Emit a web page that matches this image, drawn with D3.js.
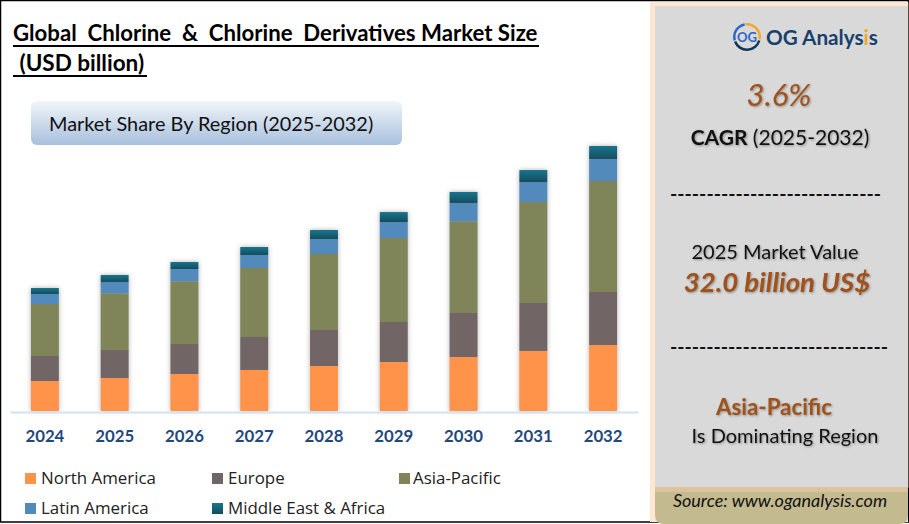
<!DOCTYPE html>
<html>
<head>
<meta charset="utf-8">
<script src="https://cdn.jsdelivr.net/npm/d3@7"></script>
<style>
  html, body { margin: 0; padding: 0; background: #fff; }
  svg { display: block; font-family: Lato, sans-serif; }
  svg text { white-space: pre; }
  .soft { filter: drop-shadow(1px 1px 1px rgba(0,0,0,0.35)); }
</style>
</head>
<body>
<div id="chart"></div>
<script>
const years = ['2024', '2025', '2026', '2027', '2028', '2029', '2030', '2031', '2032'];
const regions = ['North America', 'Europe', 'Asia-Pacific', 'Latin America', 'Middle East & Africa'];

// USD billion (2025 total = 32.0)
const northAmerica = [7.06, 7.76, 8.71, 9.65, 10.59, 11.53, 12.71, 14.12, 15.53];
const europe = [5.88, 6.59, 7.06, 7.76, 8.47, 9.41, 10.35, 11.29, 12.47];
const asiaPacific = [12.24, 13.34, 14.75, 16.24, 17.88, 19.76, 21.58, 23.76, 26.12];
const latinAmerica = [2.35, 2.66, 2.89, 3.06, 3.53, 3.76, 4.31, 4.71, 5.18];
const middleEastAfrica = [1.41, 1.65, 1.65, 1.88, 2.12, 2.35, 2.59, 2.82, 3.06];

const colors = ['#ff934a', '#716665', '#7f8558', '#528abb', 'url(#meaGrad)'];

const width = 909;
const height = 524;

const svg = d3.select('#chart').append('svg')
  .attr('width', width)
  .attr('height', height);

const defs = svg.append('defs');

function vGradient(id, top, bottom) {
  const g = defs.append('linearGradient')
    .attr('id', id)
    .attr('x1', 0).attr('y1', 0).attr('x2', 0).attr('y2', 1);
  g.append('stop').attr('offset', '0%').attr('stop-color', top);
  g.append('stop').attr('offset', '100%').attr('stop-color', bottom);
}
vGradient('meaGrad', '#19758d', '#134d5d');
vGradient('pillGrad', '#f1f5f9', '#a8c0dd');

function label(x, y, str, size, opts = {}) {
  return svg.append('text')
    .attr('x', x)
    .attr('y', y)
    .attr('text-anchor', opts.anchor || 'start')
    .attr('font-size', size)
    .attr('font-weight', opts.weight || 400)
    .attr('font-style', opts.style || 'normal')
    .attr('fill', opts.fill || '#111')
    .attr('class', opts.soft ? 'soft' : null)
    .text(str);
}

// frame
svg.append('rect').attr('x', 0.5).attr('y', 0.5).attr('width', 908).attr('height', 521.5)
  .attr('fill', '#fff').attr('stroke', '#000').attr('stroke-width', 1.5);

// title
label(13, 41, 'Global  Chlorine  &  Chlorine  Derivatives Market Size', 22.2, { weight: 700, fill: '#000' });
label(14, 71, ' (USD billion)', 22.5, { weight: 700, fill: '#000' });
svg.append('rect').attr('x', 13).attr('y', 45).attr('width', 526).attr('height', 2).attr('fill', '#000');
svg.append('rect').attr('x', 13).attr('y', 75).attr('width', 134).attr('height', 2).attr('fill', '#000');

// region pill
svg.append('rect').attr('x', 31).attr('y', 101).attr('width', 371).attr('height', 44).attr('rx', 6)
  .attr('fill', 'url(#pillGrad)');
label(49, 131, 'Market Share By Region (2025-2032)', 19.9);

// bars
const x = d3.scaleBand()
  .domain(years)
  .range([10, 638])
  .paddingInner(0.6)
  .paddingOuter(0.3);

const y = d3.scaleLinear()
  .domain([0, 32])
  .range([411, 275]);

const rows = years.map((yr, i) => ({
  year: yr,
  'North America': northAmerica[i],
  'Europe': europe[i],
  'Asia-Pacific': asiaPacific[i],
  'Latin America': latinAmerica[i],
  'Middle East & Africa': middleEastAfrica[i]
}));

const stacked = d3.stack().keys(regions)(rows);

const barLayer = svg.append('g')
  .style('filter', 'drop-shadow(0 0 2.5px rgba(0,0,0,0.3))');

barLayer.selectAll('g')
  .data(stacked)
  .enter()
  .append('g')
  .attr('fill', (d, i) => colors[i])
  .selectAll('rect')
  .data(d => d)
  .enter()
  .append('rect')
  .attr('x', d => x(d.data.year))
  .attr('y', d => y(d[1]))
  .attr('width', x.bandwidth())
  .attr('height', d => y(d[0]) - y(d[1]));

// axis
const axis = svg.append('g')
  .attr('transform', 'translate(0,412)')
  .call(d3.axisBottom(x).tickSize(0).tickPadding(18));
axis.select('.domain').attr('stroke', '#d4e1f1').attr('stroke-width', 2);
axis.selectAll('text')
  .attr('fill', '#1f497d')
  .attr('font-family', 'Lato, sans-serif')
  .attr('font-weight', 700)
  .attr('font-size', 16.8);

// legend
const legendPos = [[25, 41, 473], [212, 228, 473], [399, 413, 473], [25, 41, 503], [212, 228, 503]];
regions.forEach((r, i) => {
  const [sx, tx, sy] = legendPos[i];
  svg.append('rect').attr('x', sx).attr('y', sy).attr('width', 11).attr('height', 11).attr('fill', colors[i]);
  label(tx, sy + 11, r, 16.9, { fill: '#222' }).attr('font-family', '"Open Sans", sans-serif');
});

// right panel
svg.append('rect').attr('x', 650).attr('y', 2).attr('width', 258).attr('height', 520).attr('fill', '#fde6d2');
svg.append('rect').attr('x', 655).attr('y', 6).attr('width', 253).attr('height', 482).attr('fill', '#d9d9d9');
svg.append('path')
  .attr('d', 'M655,487H908V515Q908,524 899,524H664Q655,524 655,515Z')
  .attr('fill', '#c4ba90');
svg.append('rect').attr('x', 655).attr('y', 487).attr('width', 253).attr('height', 5).attr('fill', '#dcc39c');
svg.append('rect').attr('x', 908).attr('y', 2).attr('width', 1).attr('height', 486).attr('fill', '#5b4a3a');

// logo
const arc = d3.arc().innerRadius(11.5).outerRadius(14);
const logo = svg.append('g').attr('transform', 'translate(747,37)');
[[-0.1, 1.75, '#f5a623'], [1.85, 4.35, '#12355b'], [4.45, 6.1, '#2a67c9']].forEach(a => {
  logo.append('path')
    .attr('d', arc({ startAngle: a[0], endAngle: a[1] }))
    .attr('fill', a[2]);
});
logo.append('text').attr('text-anchor', 'middle').attr('y', 5).attr('font-size', 13)
  .attr('font-weight', 700).attr('fill', '#2a67c9').text('OG');
const brand = label(766, 45, 'OG Analys', 20.7, { weight: 700, fill: '#17406d' });
brand.append('tspan').attr('fill', '#f5a623').text('i');
brand.append('tspan').text('s');

// right panel text
const brown = '#a0521a';
label(779, 106, '3.6%', 31, { anchor: 'middle', style: 'italic', fill: brown, soft: true });
const cagr = label(780, 145, 'CAGR', 21, { anchor: 'middle', weight: 700, soft: true });
cagr.append('tspan').attr('font-weight', 400).text(' (2025-2032)');
label(775.5, 201, '-----------------------------', 19.5, { anchor: 'middle', weight: 700, fill: '#111' });
label(775, 259, '2025 Market Value', 20, { anchor: 'middle', soft: true });
label(777, 292, '32.0 billion US$', 27.5, { anchor: 'middle', weight: 700, style: 'italic', fill: brown, soft: true });
label(779, 354, '------------------------------', 19.5, { anchor: 'middle', weight: 700, fill: '#111' });
label(774, 415, 'Asia-Pacific', 22.3, { anchor: 'middle', weight: 700, fill: brown, soft: true });
label(785, 443, 'Is Dominating Region', 20, { anchor: 'middle', soft: true });
label(780, 507, 'Source: www.oganalysis.com', 18, { anchor: 'middle', style: 'italic' });
</script>
</body>
</html>
